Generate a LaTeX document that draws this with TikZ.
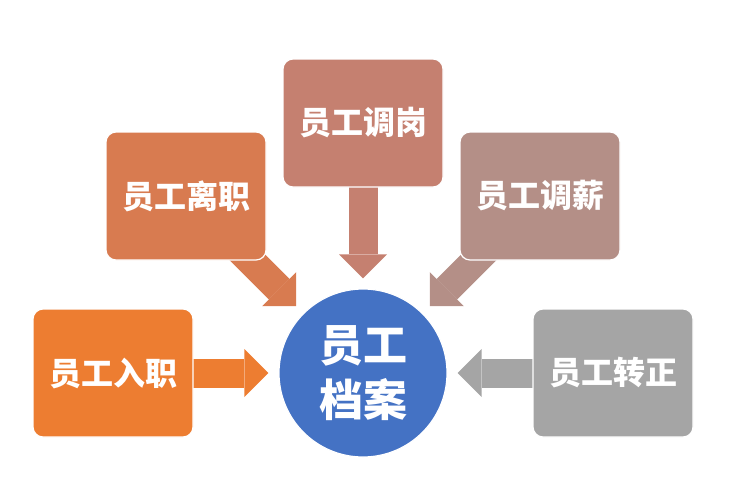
\documentclass[tikz,border=0pt]{standalone}
\usepackage{fontspec}
\newfontfamily\cjk{Noto Sans CJK SC}
\usetikzlibrary{arrows.meta}
\pgfdeclarelayer{back}
\pgfsetlayers{back,main}
\definecolor{cHire}{HTML}{ED7D31}
\definecolor{cQuit}{HTML}{D87B50}
\definecolor{cMove}{HTML}{C58070}
\definecolor{cPay}{HTML}{B48F87}
\definecolor{cRegular}{HTML}{A5A5A5}
\definecolor{cHub}{HTML}{4472C4}

\begin{document}
\begin{tikzpicture}[
  x=1pt,y=-1pt,
  every node/.style={text=white,font=\cjk\bfseries\fontsize{32}{38}\selectfont},
  card/.style={draw=white,line width=1.2pt,rounded corners=10pt,
    minimum width=160pt,minimum height=128pt},
  flow/.style={line width=29pt,shorten >=10pt,
    -{Triangle[length=24pt,width=48pt,line width=0pt]}},
  ]
  \useasboundingbox (0,0) rectangle (733,485);
  \node(hub)[circle,fill=cHub,draw=white,line width=1.2pt,minimum size=168pt,
  align=center,font=\cjk\bfseries\fontsize{44}{55}\selectfont] at (363,373) {员工\\档案};
  \node(hire)[card,fill=cHire] at (113,373) {员工入职};
  \node(quit)[card,fill=cQuit] at (186,196) {员工离职};
  \node(move)[card,fill=cMove] at (363,123) {员工调岗};
  \node(pay)[card,fill=cPay] at (540,196) {员工调薪};
  \node(regular)[card,fill=cRegular] at (613,373) {员工转正};
  \begin{pgfonlayer}{back}
    \draw[flow,cHire] (hire.center) -- (hub);
    \draw[flow,cQuit] (quit.center) -- (hub);
    \draw[flow,cMove] (move.center) -- (hub);
    \draw[flow,cPay] (pay.center) -- (hub);
    \draw[flow,cRegular] (regular.center) -- (hub);
  \end{pgfonlayer}
\end{tikzpicture}
\end{document}
